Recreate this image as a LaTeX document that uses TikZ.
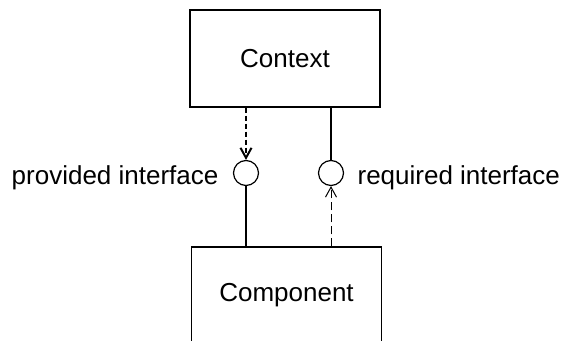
\documentclass[tikz,border=0pt]{standalone}
\usepackage{fontspec}
\setmainfont{Liberation Sans}
\usetikzlibrary{arrows.meta}

\tikzset{
  classbox/.style={draw, line width=0.6pt, minimum width=95pt, minimum height=48.5pt,
    font=\fontsize{13}{15}\selectfont},
  iface/.style={draw, circle, line width=0.6pt, minimum size=12.5pt, inner sep=0pt},
  lbl/.style={font=\fontsize{13}{15}\selectfont, inner sep=0pt},
  barb/.style={-{Straight Barb[length=5pt,width=5.5pt]}},
}

\begin{document}
\begin{tikzpicture}[x=0.5pt,y=-0.5pt,line width=0.6pt]
    \useasboundingbox (0,0) rectangle (566,341);
    \clip (0,0) rectangle (566,341);

    % the two boxes, the lower one runs off the bottom
    \node[classbox] (ctx) at (285,58.5) {Context};
    \node[classbox] (comp) at (286.5,295.5) {Component};

    % interface circles
    \node[iface] (prov) at (246,173) {};
    \node[iface] (req) at (331,173) {};

    \node[lbl, anchor=base east] (provlbl) at (219,185) {provided interface};
    \node[lbl, anchor=base west] (reqlbl) at (357,185) {required interface};

    % provided side
    \draw[barb, line width=1pt, dash pattern=on 2.5pt off 1.5pt] (ctx.south -| prov) -- (prov.north);
    \draw (prov.south) -- (comp.north -| prov);

    % required side
    \draw (ctx.south -| req) -- (req.north);
    \draw[barb, line width=0.5pt, dash pattern=on 4pt off 2pt] (comp.north -| req) -- (req.south);
\end{tikzpicture}
\end{document}
